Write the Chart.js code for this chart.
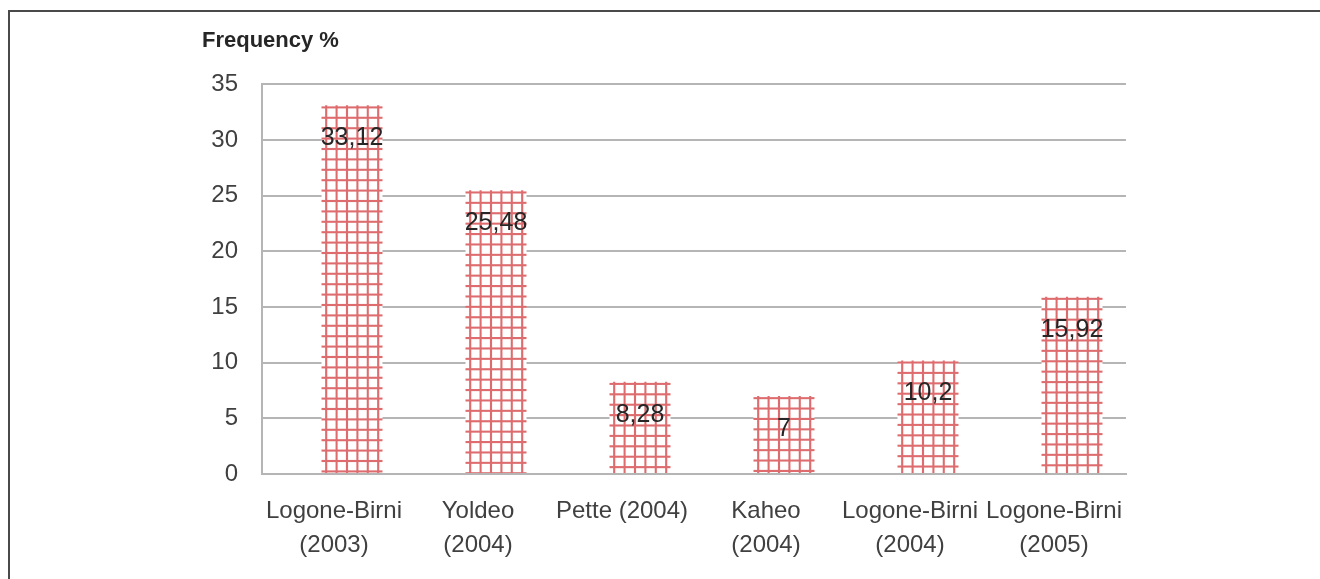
<!DOCTYPE html>
<html>
<head>
<meta charset="utf-8">
<script src="https://cdn.jsdelivr.net/npm/chart.js@4/dist/chart.umd.min.js"></script>
<style>
  html, body { margin: 0; padding: 0; background: #fff; }
  #wrap { position: relative; width: 1320px; height: 579px; overflow: hidden; }
  #frame { position: absolute; left: 8px; top: 10px; width: 1400px; height: 700px;
           border-top: 2px solid #4a4a4a; border-left: 2px solid #4a4a4a; }
  canvas { position: absolute; left: 0; top: 0; }
</style>
</head>
<body>
<div id="wrap">
  <div id="frame"></div>
  <canvas id="c" width="1320" height="579"></canvas>
</div>
<script>
const categories = [
  ['Logone-Birni', '(2003)'],
  ['Yoldeo', '(2004)'],
  'Pette (2004)',
  ['Kaheo', '(2004)'],
  ['Logone-Birni', '(2004)'],
  ['Logone-Birni', '(2005)']
];
const frequency = [33.12, 25.48, 8.28, 7, 10.2, 15.92];
const emptySeries = [null, null, null, null, null, null];
const yTicks = { min: 0, max: 35, step: 5 };
const yTitle = 'Frequency %';

const FONT = "'Liberation Sans', Arial, sans-serif";

function makePattern(ctx, ox, oy) {
  const t = document.createElement('canvas');
  t.width = 10; t.height = 10;
  const g = t.getContext('2d');
  g.fillStyle = '#ffffff';
  g.fillRect(0, 0, 10, 10);
  g.fillStyle = 'rgb(222,108,110)';
  g.fillRect(0, 0, 10, 2);
  g.fillRect(0, 0, 2, 10);
  const p = ctx.createPattern(t, 'repeat');
  if (p.setTransform) p.setTransform(new DOMMatrix([1.04, 0, 0, 1.04, ox, oy]));
  return p;
}

const patternPlugin = {
  id: 'gridPattern',
  beforeDatasetsDraw(chart) {
    const meta = chart.getDatasetMeta(1);
    meta.data.forEach(el => {
      if (el.y == null || isNaN(el.y)) return;
      const left = el.x - el.width / 2;
      el.options = Object.assign({}, el.options, { backgroundColor: makePattern(chart.ctx, left + 3.6, el.y + 1) });
    });
  }
};

const labelPlugin = {
  id: 'valueLabels',
  afterDatasetsDraw(chart) {
    const ctx = chart.ctx;
    const meta = chart.getDatasetMeta(1);
    ctx.save();
    ctx.font = '25px ' + FONT;
    ctx.fillStyle = '#262626';
    ctx.textAlign = 'center';
    ctx.textBaseline = 'middle';
    meta.data.forEach((el, i) => {
      const v = frequency[i];
      if (v == null) return;
      ctx.fillText(String(v).replace('.', ','), el.x, el.y + 33);
    });
    ctx.restore();
  }
};

new Chart(document.getElementById('c'), {
  type: 'bar',
  data: {
    labels: categories,
    datasets: [
      { label: '', data: emptySeries, backgroundColor: '#ffffff',
        categoryPercentage: 0.5, barPercentage: 1.694 },
      { label: 'Frequency', data: frequency, backgroundColor: '#ffffff', borderWidth: 0,
        categoryPercentage: 0.5, barPercentage: 1.694 }
    ]
  },
  options: {
    responsive: false,
    animation: false,
    devicePixelRatio: 1,
    layout: { padding: { left: 202, right: 194, top: 28, bottom: 0 } },
    plugins: {
      legend: { display: false },
      tooltip: { enabled: false },
      title: {
        display: true, text: yTitle, align: 'start',
        color: '#262626',
        font: { family: FONT, size: 22, weight: 'bold', lineHeight: 1.2 },
        padding: { top: 0, bottom: 30 }
      }
    },
    scales: {
      x: {
        grid: { display: false, drawTicks: false },
        border: { display: true, color: '#b5b5b5', width: 2 },
        ticks: {
          color: '#404040', padding: 20, maxRotation: 0, minRotation: 0, autoSkip: false,
          font: { family: FONT, size: 24, lineHeight: 1.42 }
        },
        afterFit(scale) { scale.height = 105; }
      },
      y: {
        min: yTicks.min, max: yTicks.max,
        grid: { color: '#b5b5b5', lineWidth: 2, drawTicks: false },
        border: { display: true, color: '#b5b5b5', width: 2 },
        ticks: {
          stepSize: yTicks.step, color: '#404040', padding: 24,
          font: { family: FONT, size: 24 }
        },
        afterFit(scale) { scale.width = 60; }
      }
    }
  },
  plugins: [patternPlugin, labelPlugin]
});
</script>
</body>
</html>
